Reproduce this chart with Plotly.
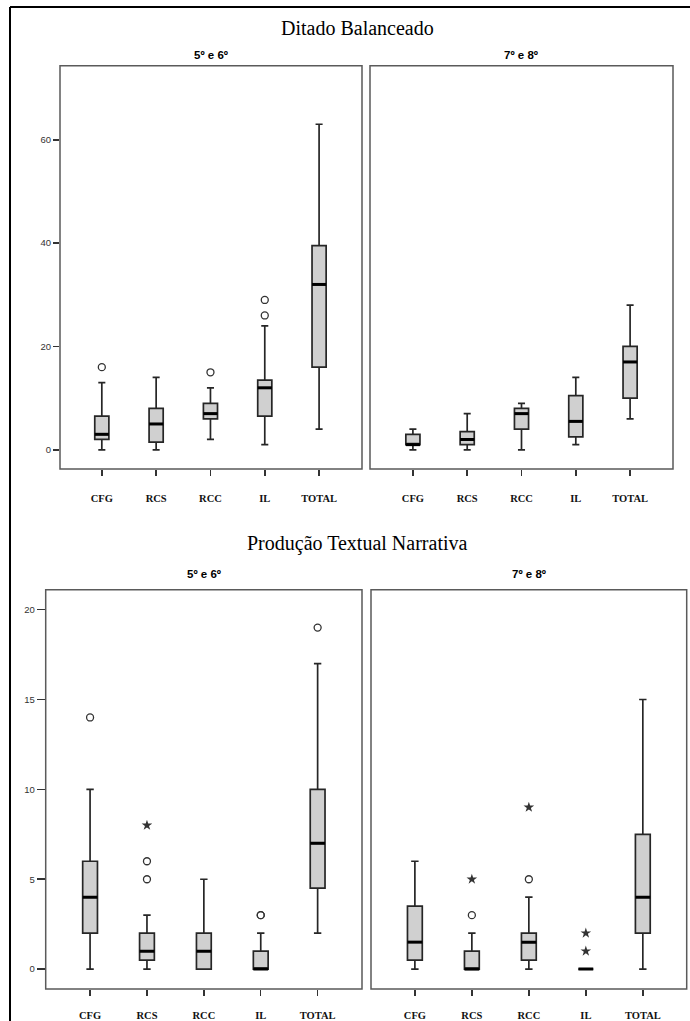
import plotly.graph_objects as go

W, H = 690, 1021

categories = ["CFG", "RCS", "RCC", "IL", "TOTAL"]

# Ditado Balanceado – 5º e 6º
d56_low = [0, 0, 2, 1, 4]
d56_q1 = [2, 1.5, 6, 6.5, 16]
d56_med = [3, 5, 7, 12, 32]
d56_q3 = [6.5, 8, 9, 13.5, 39.5]
d56_up = [13, 14, 12, 24, 63]
d56_out_x = ["CFG", "RCC", "IL", "IL"]
d56_out_y = [16, 15, 26, 29]
d56_ext_x = []
d56_ext_y = []

# Ditado Balanceado – 7º e 8º
d78_low = [0, 0, 0, 1, 6]
d78_q1 = [1, 1, 4, 2.5, 10]
d78_med = [1, 2, 7, 5.5, 17]
d78_q3 = [3, 3.5, 8, 10.5, 20]
d78_up = [4, 7, 9, 14, 28]
d78_out_x = []
d78_out_y = []
d78_ext_x = []
d78_ext_y = []

# Produção Textual Narrativa – 5º e 6º
p56_low = [0, 0, 0, 0, 2]
p56_q1 = [2, 0.5, 0, 0, 4.5]
p56_med = [4, 1, 1, 0, 7]
p56_q3 = [6, 2, 2, 1, 10]
p56_up = [10, 3, 5, 2, 17]
p56_out_x = ["CFG", "RCS", "RCS", "IL", "IL", "TOTAL"]
p56_out_y = [14, 5, 6, 3, 3, 19]
p56_ext_x = ["RCS"]
p56_ext_y = [8]

# Produção Textual Narrativa – 7º e 8º
p78_low = [0, 0, 0, 0, 0]
p78_q1 = [0.5, 0, 0.5, 0, 2]
p78_med = [1.5, 0, 1.5, 0, 4]
p78_q3 = [3.5, 1, 2, 0, 7.5]
p78_up = [6, 2, 4, 0, 15]
p78_out_x = ["RCS", "RCC"]
p78_out_y = [3, 5]
p78_ext_x = ["RCS", "RCC", "IL", "IL"]
p78_ext_y = [5, 9, 1, 2]

panels = [
    dict(low=d56_low, q1=d56_q1, med=d56_med, q3=d56_q3, up=d56_up,
         ox=d56_out_x, oy=d56_out_y, ex=d56_ext_x, ey=d56_ext_y),
    dict(low=d78_low, q1=d78_q1, med=d78_med, q3=d78_q3, up=d78_up,
         ox=d78_out_x, oy=d78_out_y, ex=d78_ext_x, ey=d78_ext_y),
    dict(low=p56_low, q1=p56_q1, med=p56_med, q3=p56_q3, up=p56_up,
         ox=p56_out_x, oy=p56_out_y, ex=p56_ext_x, ey=p56_ext_y),
    dict(low=p78_low, q1=p78_q1, med=p78_med, q3=p78_q3, up=p78_up,
         ox=p78_out_x, oy=p78_out_y, ex=p78_ext_x, ey=p78_ext_y),
]

BOX_W = 0.26
pos = {c: i for i, c in enumerate(categories)}
xs = list(range(len(categories)))

fig = go.Figure()
for k, p in enumerate(panels):
    xa = "x" if k == 0 else f"x{k+1}"
    ya = "y" if k == 0 else f"y{k+1}"
    fig.add_trace(go.Box(
        x=xs, q1=p["q1"], median=p["med"], q3=p["q3"],
        lowerfence=p["low"], upperfence=p["up"],
        width=BOX_W, whiskerwidth=0.5, boxpoints=False,
        fillcolor="#d0d0d0", line=dict(color="#262626", width=1.7),
        xaxis=xa, yaxis=ya, showlegend=False, hoverinfo="skip"))
    mx, my = [], []
    for i, m in enumerate(p["med"]):
        mx += [i - BOX_W / 2, i + BOX_W / 2, None]
        my += [m, m, None]
    fig.add_trace(go.Scatter(x=mx, y=my, mode="lines",
                             line=dict(color="black", width=3),
                             xaxis=xa, yaxis=ya, showlegend=False, hoverinfo="skip"))
    if p["ox"]:
        fig.add_trace(go.Scatter(x=[pos[c] for c in p["ox"]], y=p["oy"], mode="markers",
                                 marker=dict(symbol="circle-open", size=7, color="#333",
                                             line=dict(width=1.3, color="#333")),
                                 xaxis=xa, yaxis=ya, showlegend=False, hoverinfo="skip"))
    if p["ex"]:
        fig.add_trace(go.Scatter(x=[pos[c] for c in p["ex"]], y=p["ey"], mode="markers",
                                 marker=dict(symbol="star", size=8, color="#333",
                                             line=dict(width=0)),
                                 xaxis=xa, yaxis=ya, showlegend=False, hoverinfo="skip"))

def fx(a, b):
    return [a / W, b / W]

def fy(top, bottom):
    return [1 - bottom / H, 1 - top / H]

xdoms = [fx(60, 362), fx(370, 673), fx(45.7, 362), fx(371, 686.7)]
xranges = [[-0.77, 4.79], [-0.79, 4.79], [-0.78, 4.78], [-0.77, 4.77]]
ydoms = [fy(66, 470), fy(66, 470), fy(591, 991), fy(591, 991)]
yranges = [[-3.73, 74.3], [-3.73, 74.3], [-1.11, 21.1], [-1.11, 21.1]]
ytv = [[0, 20, 40, 60], [0, 20, 40, 60], [0, 5, 10, 15, 20], [0, 5, 10, 15, 20]]
standoffs = [13, 13, 10, 10]

layout = dict(
    width=W, height=H, margin=dict(l=0, r=0, t=0, b=0),
    paper_bgcolor="white", plot_bgcolor="white", showlegend=False,
)
for k in range(4):
    xn = "xaxis" if k == 0 else f"xaxis{k+1}"
    yn = "yaxis" if k == 0 else f"yaxis{k+1}"
    ya = "y" if k == 0 else f"y{k+1}"
    xa = "x" if k == 0 else f"x{k+1}"
    layout[xn] = dict(
        domain=xdoms[k], range=xranges[k], anchor=ya,
        tickvals=xs, ticktext=categories, ticks="outside", ticklen=6,
        tickcolor="#333", tickwidth=1.5, showgrid=False, zeroline=False,
        showline=False, ticklabelstandoff=standoffs[k],
        tickfont=dict(family="Liberation Serif", size=10.5, color="#111", weight="bold"),
        fixedrange=True)
    left = k in (0, 2)
    layout[yn] = dict(
        domain=ydoms[k], range=yranges[k], anchor=xa,
        tickvals=ytv[k] if left else [], ticks="outside" if left else "",
        ticklen=6 if k == 0 else 8, tickcolor="#333", tickwidth=1.5,
        showticklabels=left, showgrid=False, zeroline=False, showline=False,
        tickfont=dict(family="Liberation Sans", size=9.5, color="#333"),
        fixedrange=True)
fig.update_layout(**layout)

shapes = []
for k in range(4):
    xa = "x" if k == 0 else f"x{k+1}"
    ya = "y" if k == 0 else f"y{k+1}"
    shapes.append(dict(type="rect", xref=f"{xa} domain", yref=f"{ya} domain",
                       x0=0, x1=1, y0=0, y1=1, line=dict(color="#5a5a5a", width=1.5)))
# outer frame (top and left edges visible)
shapes.append(dict(type="line", xref="paper", yref="paper",
                   x0=10 / W, x1=1.01, y0=1 - 7 / H, y1=1 - 7 / H,
                   line=dict(color="black", width=2)))
shapes.append(dict(type="line", xref="paper", yref="paper",
                   x0=10 / W, x1=10 / W, y0=-0.01, y1=1 - 7 / H,
                   line=dict(color="black", width=2)))
fig.update_layout(shapes=shapes)

annots = [
    ("Ditado Balanceado", 357, 28, "Liberation Serif", 20, "normal"),
    ("Produção Textual Narrativa", 357, 545, "Liberation Serif", 20, "normal"),
    ("5º e 6º", 211, 55, "Liberation Sans", 11.5, "bold"),
    ("7º e 8º", 521, 55, "Liberation Sans", 11.5, "bold"),
    ("5º e 6º", 204, 575, "Liberation Sans", 11.5, "bold"),
    ("7º e 8º", 529, 575, "Liberation Sans", 11.5, "bold"),
]
for text, x, y, fam, size, wt in annots:
    fig.add_annotation(text=text, x=x / W, y=1 - y / H, xref="paper", yref="paper",
                       showarrow=False, xanchor="center", yanchor="middle",
                       font=dict(family=fam, size=size, color="black", weight=wt))

fig.write_html("out.html", config={"displayModeBar": False, "staticPlot": True},
               post_script="document.body.style.margin='0';document.body.style.overflow='hidden';")
